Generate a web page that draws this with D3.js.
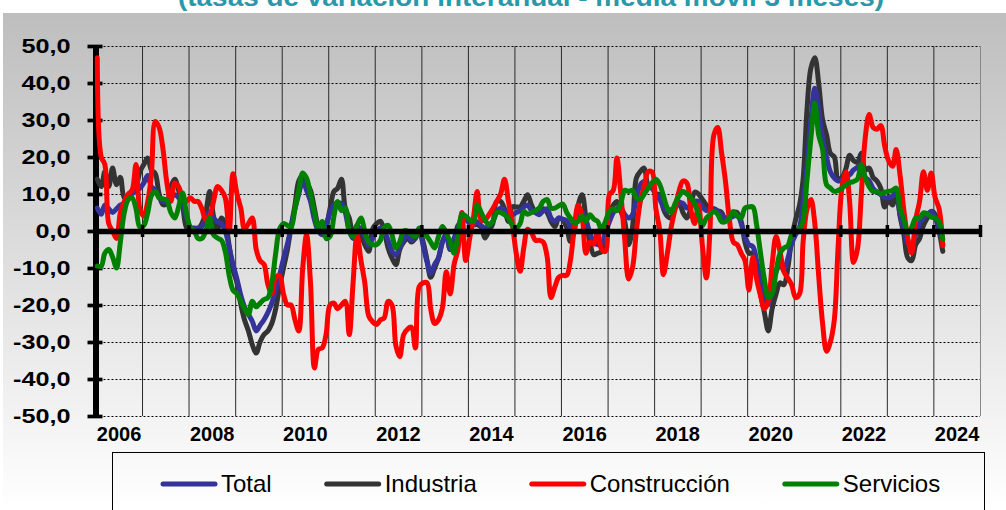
<!DOCTYPE html>
<html>
<head>
<meta charset="utf-8">
<script src="https://cdn.jsdelivr.net/npm/d3@7"></script>
<style>
body { margin: 0; background: #fff; }
svg { display: block; font-family: "Liberation Sans", Arial, sans-serif; }
</style>
</head>
<body>
<svg id="chart" width="1006" height="510"></svg>
<script>

// monthly data, Jan 2006 .. Mar 2024
var startYear = 2006
var seriesNames = ['Total', 'Industria', 'Construcción', 'Servicios']
var seriesColors = ['#333399', '#333333', '#ff0000', '#008000']
var yTicks = [-50, -40, -30, -20, -10, 0, 10, 20, 30, 40, 50]
var yearLabels = [2006, 2008, 2010, 2012, 2014, 2016, 2018, 2020, 2022, 2024]
var titleText = '(tasas de variación interanual - media móvil 3 meses)'

var total = [
    6.2, 4.5, 7, 6, 5, 6, 7, 7.5, 9, 10, 11, 11.5,
    13, 15, 12, 11, 9, 8, 8, 9, 9.8, 9, 7, 4,
    1, 0.8, 0.8, 1.2, 3, 5.3, 3.5, 2.5, 2, 0, -4.5, -9,
    -13, -17.5, -20.5, -22.5, -24.4, -27, -25.5, -24, -22, -19.5, -16, -12,
    -7.5, -3.5, 1, 6, 10, 13.4, 11, 8, 3, 0, -1, 1.5,
    5, 7.1, 7.5, 7.5, 5, 0, -2, 0, 0.8, -1.5, -4, -2,
    0, 0.8, 0, -2.5, -5.5, -6.5, -4.5, -2.5, -1, -2.5, -1.5, 0,
    -4, -8.5, -11.5, -9, -7.3, -3, -1, -5, -2, 0.8, 2, 3.5,
    2, 1.7, 2.5, 1.5, 0.8, 1.5, 2.6, 5, 6.2, 5.5, 5, 4.4,
    5, 5.5, 6.5, 7, 5.5, 5, 4.4, 5.5, 6, 3.5, 2.6, 3.5,
    3.2, 2.8, 1.2, 2.5, 5, 5, 3, -0.5, -3, -3.7, -3.7, -0.5,
    2.5, 5, 6, 6.2, 4.5, 3.5, 4.4, 9, 12.5, 13.4, 12.5, 11.5,
    10, 8.5, 6.5, 5.3, 5.8, 6.2, 7.5, 7.5, 6.2, 7, 8, 8,
    6.5, 5.5, 6.2, 5.8, 5.3, 4.2, 3.5, 3.5, 4, 4.4, 2, -1.5,
    -3.7, -4.2, -8, -13.5, -17.5, -19.9, -14.5, -11, -9.1, -10.5, -7.5, -3.5,
    -1, 1, 8, 18, 30, 38.6, 33, 25, 20, 16, 14.3, 13.5,
    13.8, 14.5, 15.2, 16.5, 17.2, 17.9, 14.5, 13.6, 11.5, 10.5, 9.8, 9,
    9, 9.5, 10.7, 4.4, 0.5, -3.5, -3.7, -1, 2, 3.5, 4.5, 5.3,
    3.5, 0.5, -3.7
]

var industria = [
    14, 12, 16, 12, 17, 12.5, 14.5, 9, 9, 11, 12, 16,
    18, 19.7, 16.5, 15.5, 10, 7.1, 7.5, 12, 14, 11, 7, 1,
    0, 0, 0.5, 2, 5, 10.7, 4, 0.5, 3.5, 2, -4, -10.5,
    -14, -20, -24, -27, -30.7, -33, -30, -28, -27, -25, -21, -15,
    -10, -5, 1, 7, 13.5, 15, 13, 11, 6, 1, -1, 1,
    6, 10.7, 11.5, 14, 6, 3.5, -1.5, 1.5, -1, -3.7, -5.5, 0.5,
    2, 2.6, 0, -4.6, -7.3, -9.1, -5, -3, -1.9, -3, -2, 0,
    -3, -8, -12.5, -10, -7.3, -3, -1, -5, -3, 1.5, 2.5, 3.5,
    2, 1.7, 1.7, 1, -1.9, 0, 2, 8, 8, 6, 2.6, 6.5,
    6.5, 6.5, 8, 9.8, 7, 5, 4.8, 6, 5, 2.6, 1.2, 3.5,
    3, 1, -2.8, 0, 7, 9.8, 3.5, -3, -6.4, -6, -5.5, 0,
    5, 7, 8, 5.3, 2.6, -3.7, 0.8, 14.3, 16.1, 17, 12.5, 12.5,
    10, 9.8, 6, 4, 3.5, 7, 8, 5, 3.5, 6, 10.5, 10,
    8.5, 7, 6, 6, 5.5, 5, 3, 4, 5, 5, 2.6, -3,
    -6, -6, -11, -17, -22, -27, -21, -17, -14, -14.5, -10, -2,
    3, 7, 14, 33, 44, 46.8, 40, 30, 26, 21, 20, 14,
    14.5, 17, 20.5, 19, 18.5, 21, 16.5, 17, 14.5, 13.5, 11.5, 6.5,
    8.5, 7, 10.7, 4, -1, -7.3, -8, -3.7, -2, 1.5, 3.5, 5.3,
    4.5, 0, -5.5
]

var construccion = [
    46.8, 20, 18, 2, 0, -2, 5, 8, 10, 11, 18, 6,
    4, 8, 15, 29.6, 28, 22, 13, 8, 13, 12, 9, 8,
    9, 8, 8, 6, 3, 4, 8, 12, 11, 9, 0, 15.5,
    10, 6, 0.5, 2, 3.5, -5, -8, -9, -14.5, -17, -12.5, -12,
    -17, -20, -20, -24, -27, -10, -1, -14, -37, -32, -31.6, -28,
    -20, -19.5, -21, -20, -19, -28, -14, -1, -8, -14, -23, -24.5,
    -25.3, -24, -23.5, -19, -20, -31, -34, -28, -26.5, -26, -31.6, -15,
    -14, -14, -21, -25, -24, -20.8, -11, -17, -9, -5, 5, -8,
    -2, 4, 10.7, 3, 3, 4.4, 6, 8, 10, 14, 8, 2,
    -6, -10.9, -4.6, 0.5, -0.5, -2.5, -2.5, -3, -7, -18, -15, -12.5,
    -12, -12, -8, 1, 7, 4, -6, -3, -3.5, 0, -5, -5.5,
    9.8, 11, 19.7, 10, -2, -13, -10, 0, 8, 12, 16, 16,
    6, 0, -11.8, -6, 1, 6, 10.7, 13.5, 13, 6, 2, 7,
    -4, -12.7, 0, 26, 28, 21, 13.4, 3, -3, -3.7, -6, -8,
    -16, -7, -13, -17.5, -21, -19, -9, -1.5, -5.5, -11, -12.7, -14.5,
    -18, -17, -3, 6, 8.5, 2, -12, -25, -32.5, -30, -24, -4,
    12, 16, 8, -8.5, -5, 10, 25, 31.5, 28, 27.5, 28.5, 23,
    19, 17.5, 22, 15, 5.5, -2, -6, 3, 8, 16, 11, 15.7,
    9, 6, -4
]

var servicios = [
    -9.5, -9.5, -6, -5, -7, -10, -3, 5, 8.5, 9, 6, 1,
    1.5, 5, 9.5, 10.7, 9, 8.7, 8.3, 5, 3.5, 6.5, 10.3, 5,
    1, 0, -2, -2, 0, 3.5, -1, -1.9, -2.5, -5.5, -12, -16,
    -17, -19, -21, -22.6, -19, -20.5, -19.5, -18.5, -18, -14, -6, 0.5,
    2, 1.5, 1, 6, 11, 15.7, 14.3, 10, 5, 1, 2.6, -2,
    -1.5, 4, 8, 5.5, 6.2, 0, -1.5, 1.5, 3.5, 0, -3, -3.7,
    -3.7, -2.5, 1, 1.5, -1, -4.6, -3, 0, 0, -1, -1.5, 0.8,
    -0.5, -1.5, -3, -4.6, -1.5, 1.2, -0.5, -3, -6, -1, 4.5, 4,
    3, 2.6, 7.1, 5, 3, 1.7, 2.5, 5, 5, 4.4, 3.5, 1.5,
    0.8, 2, 5.3, 4.5, 5, 5.5, 6.2, 8, 8.5, 6.2, 6.2, 6.8,
    7.3, 5, 3.5, 2.2, 2.6, 4, 2.6, 4.4, 3.2, 2.6, 0.4, 2.6,
    5.3, 6, 5.5, 7.5, 11, 10.7, 11, 9, 8.5, 10, 11.6, 13,
    14, 12.5, 9.5, 6.2, 5, 7.5, 9.4, 10.7, 10, 9, 7.5, 4.4,
    1.5, 3.5, 4.4, 5.3, 4.5, 2.5, 2.5, 3.5, 5.3, 4, 3.5, 6.2,
    6.5, 6.5, 1.7, -6, -13, -18, -17, -11, -6, -4.6, -4, -1,
    0.3, 0.6, 3, 14, 25, 34.6, 26, 22, 12.5, 11.6, 10.7, 11,
    11.6, 12.5, 13, 13.4, 14, 17.9, 14.5, 12, 10.7, 10.7, 10, 10.5,
    10.7, 11, 11.6, 6, 3, -0.5, 1, 3.5, 3.5, 4.9, 4.6, 3.8,
    3.5, 2.5, -2.3
]

var seriesValues = [total, industria, construccion, servicios]
// points sit in the middle of each month
var months = total.map(function(d, i) { return new Date(startYear, i, 15) })

var svg = d3.select('#chart')

var defs = svg.append('defs')
var grad = defs.append('linearGradient')
    .attr('id', 'bg')
    .attr('x1', 0).attr('y1', 0).attr('x2', 0).attr('y2', 1)
grad.append('stop').attr('offset', '0%').attr('stop-color', '#bebebe')
grad.append('stop').attr('offset', '100%').attr('stop-color', '#ffffff')

svg.append('rect')
    .attr('x', 3).attr('y', 13)
    .attr('width', 1003).attr('height', 497)
    .attr('fill', 'url(#bg)')

svg.append('text')
    .attr('x', 178)
    .attr('y', 6)
    .attr('textLength', 706)
    .attr('lengthAdjust', 'spacingAndGlyphs')
    .style('font-size', '26px')
    .style('font-weight', 'bold')
    .style('fill', '#2a98a8')
    .text(titleText)

var plotL = 95.5, plotR = 980, plotT = 46, plotB = 416

var xs = d3.scaleTime()
    .domain([new Date(startYear, 0, 1), new Date(2025, 0, 1)])
    .range([plotL, plotR])
var ys = d3.scaleLinear().domain([-50, 50]).range([plotB, plotT])

var years = d3.range(startYear + 1, 2026).map(function(y) { return new Date(y, 0, 1) })

// vertical grid
svg.append('g')
    .attr('transform', 'translate(0,' + plotB + ')')
    .call(d3.axisBottom(xs).tickValues(years).tickSize(-(plotB - plotT)).tickFormat(''))
    .call(function(g) {
        g.select('.domain').remove()
        g.selectAll('line').attr('stroke', '#2a2a2a').attr('stroke-width', 1)
        g.selectAll('.tick:last-of-type line').attr('stroke', '#888')
    })

// horizontal dotted grid
svg.append('g')
    .attr('transform', 'translate(' + plotL + ',0)')
    .call(d3.axisLeft(ys).tickValues(yTicks).tickSize(-(plotR - plotL)).tickFormat(''))
    .call(function(g) {
        g.select('.domain').remove()
        g.selectAll('line').attr('stroke', '#000').attr('stroke-width', 1).attr('stroke-dasharray', '2,2')
    })

// y axis (under the series)
svg.append('g')
    .attr('transform', 'translate(' + plotL + ',0)')
    .call(d3.axisLeft(ys).tickValues(yTicks).tickSizeInner(8).tickSizeOuter(0).tickPadding(17)
        .tickFormat(function(d) { return d3.format('.1f')(d).replace('.', ',').replace('\u2212', '-') }))
    .call(function(g) {
        g.select('.domain').attr('stroke', '#000').attr('stroke-width', 6)
        g.selectAll('.tick line').attr('stroke', '#000').attr('stroke-width', 3.7).attr('x2', -8).attr('x1', 7)
        g.selectAll('.tick text')
            .attr('x', -25 / 1.2)
            .attr('transform', 'scale(1.2,1)')
            .attr('fill', '#000')
            .style('font-size', '21px')
            .style('font-weight', 'bold')
            .style('font-family', '"Liberation Sans", Arial, sans-serif')
    })

var line = d3.line()
    .x(function(d, i) { return xs(months[i]) })
    .y(function(d) { return ys(d) })
    .curve(d3.curveCatmullRom.alpha(0.5))

var drawOrder = [1, 0, 2, 3]
svg.append('g')
    .selectAll('path')
    .data(drawOrder)
    .enter()
    .append('path')
    .attr('d', function(k) { return line(seriesValues[k]) })
    .attr('fill', 'none')
    .attr('stroke', function(k) { return seriesColors[k] })
    .attr('stroke-width', 5)
    .attr('stroke-linejoin', 'round')
    .attr('stroke-linecap', 'round')

// zero axis with year ticks
svg.append('g')
    .attr('transform', 'translate(0,' + ys(0) + ')')
    .call(d3.axisBottom(xs).tickValues(years).tickSizeInner(6).tickSizeOuter(0).tickFormat(''))
    .call(function(g) {
        g.select('.domain').attr('stroke', '#000').attr('stroke-width', 5.5)
        g.selectAll('.tick line').attr('stroke', '#000').attr('stroke-width', 3.5).attr('y1', -6)
    })

// year labels centred in each year
svg.append('g')
    .attr('transform', 'translate(0,' + plotB + ')')
    .call(d3.axisBottom(xs).tickValues(yearLabels.map(function(y) { return new Date(y, 6, 1) }))
        .tickSize(0).tickPadding(11).tickFormat(d3.timeFormat('%Y')))
    .call(function(g) {
        g.select('.domain').remove()
        g.selectAll('text')
            .attr('fill', '#000')
            .style('font-size', '20px')
            .style('font-weight', 'bold')
            .style('font-family', '"Liberation Sans", Arial, sans-serif')
    })

// legend
svg.append('rect')
    .attr('x', 112.5).attr('y', 452.5)
    .attr('width', 872).attr('height', 80)
    .attr('fill', 'none')
    .attr('stroke', '#000')
    .attr('stroke-width', 1)

var legend = svg.append('g')
var lx = 163
seriesNames.forEach(function(name, i) {
    legend.append('line')
        .attr('x1', lx).attr('x2', lx + 52)
        .attr('y1', 484).attr('y2', 484)
        .attr('stroke', seriesColors[i])
        .attr('stroke-width', 5)
        .attr('stroke-linecap', 'round')
    var t = legend.append('text')
        .attr('x', lx + 58)
        .attr('y', 492)
        .style('font-size', '24px')
        .style('fill', '#000')
        .text(name)
    lx = lx + 58 + t.node().getComputedTextLength() + 55
})

</script>
</body>
</html>
